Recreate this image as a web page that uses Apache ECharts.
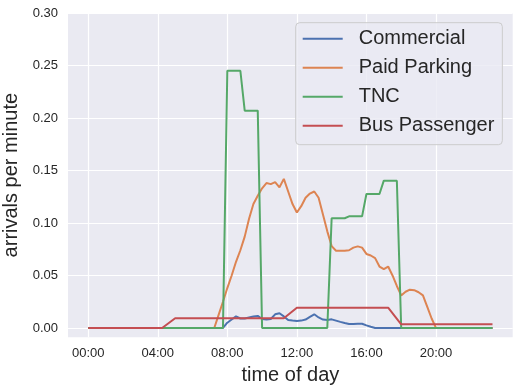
<!DOCTYPE html>
<html>
<head>
<meta charset="utf-8">
<script src="https://cdn.jsdelivr.net/npm/echarts@6/dist/echarts.min.js"></script>
<style>
  html, body { margin: 0; padding: 0; background: #fff; }
  #chart { width: 520px; height: 392px; }
</style>
</head>
<body>
<div id="chart"></div>
<script>
// [hour of day, arrivals per minute]
const commercial = [
  [0, 0], [7.75, 0], [8, 0.005], [8.25, 0.008], [8.5, 0.011], [8.75, 0.009], [9, 0.009],
  [9.25, 0.01], [9.5, 0.011], [9.75, 0.0115], [10, 0.0085], [10.25, 0.008], [10.5, 0.0085],
  [10.75, 0.013], [11, 0.014], [11.25, 0.011], [11.5, 0.0075], [11.75, 0.007], [12, 0.0067],
  [12.25, 0.007], [12.5, 0.008], [12.75, 0.0105], [13, 0.013], [13.25, 0.01], [13.5, 0.008],
  [13.75, 0.0075], [14, 0.0082], [14.25, 0.007], [14.5, 0.0058], [14.75, 0.0047], [15, 0.0038],
  [15.25, 0.0038], [15.5, 0.004], [15.75, 0.004], [16, 0.0025], [16.25, 0.0012], [16.5, 0],
  [23.25, 0]
];
const paidParking = [
  [0, 0], [7.25, 0], [7.5, 0.0125], [7.75, 0.025], [8, 0.038], [8.25, 0.05], [8.5, 0.063],
  [8.75, 0.074], [9, 0.087], [9.25, 0.104], [9.5, 0.118], [9.75, 0.126], [10, 0.133],
  [10.25, 0.138], [10.5, 0.137], [10.75, 0.139], [11, 0.134], [11.25, 0.142], [11.5, 0.13],
  [11.75, 0.118], [12, 0.11], [12.25, 0.116], [12.5, 0.124], [12.75, 0.128], [13, 0.13],
  [13.25, 0.124], [13.5, 0.108], [13.75, 0.092], [14, 0.078], [14.25, 0.0735], [14.5, 0.0735],
  [14.75, 0.0735], [15, 0.074], [15.25, 0.0765], [15.5, 0.0777], [15.75, 0.0765], [16, 0.0705],
  [16.25, 0.069], [16.5, 0.0665], [16.75, 0.0585], [17, 0.056], [17.25, 0.0585], [17.5, 0.05],
  [17.75, 0.04], [18, 0.031], [18.25, 0.0345], [18.5, 0.0365], [18.75, 0.036], [19, 0.034],
  [19.25, 0.031], [19.5, 0.02], [19.75, 0.009], [20, 0], [23.25, 0]
];
const tnc = [
  [0, 0], [7.75, 0], [8, 0.245], [8.75, 0.245], [9, 0.207], [9.75, 0.207], [10, 0],
  [13.75, 0], [14, 0.1045], [14.75, 0.1045], [15, 0.1063], [15.75, 0.1063], [16, 0.1276],
  [16.75, 0.1276], [17, 0.1403], [17.75, 0.1403], [18, 0], [23.25, 0]
];
const busPassenger = [
  [0, 0], [4.25, 0], [5, 0.0093], [11.25, 0.0093], [12, 0.0193], [17.25, 0.0193],
  [18, 0.0035], [23.25, 0.0035]
];
const seriesNames = ['Commercial', 'Paid Parking', 'TNC', 'Bus Passenger'];
const colors = ['#4c72b0', '#dd8452', '#55a868', '#c44e52'];
const xTicks = [0, 4, 8, 12, 16, 20];
const yTicks = [0, 0.05, 0.1, 0.15, 0.2, 0.25, 0.3];

const font = "'Liberation Sans', Arial, sans-serif";
const ink = '#262626';

const chart = echarts.init(document.getElementById('chart'));
const allData = [commercial, paidParking, tnc, busPassenger];

chart.setOption({
  animation: false,
  textStyle: { fontFamily: font, color: ink },
  grid: {
    left: 68, right: 7.3, top: 13, bottom: 54.7,
    outerBoundsMode: 'none',
    containLabel: false,
    show: true, backgroundColor: '#eaeaf2', borderWidth: 0
  },
  legend: {
    left: 295.7, top: 22.7,
    orient: 'vertical',
    icon: 'rect',
    itemWidth: 40, itemHeight: 2, itemGap: 9,
    padding: [6, 8, 9, 7],
    backgroundColor: 'rgba(234,234,242,0.8)',
    borderColor: '#cccccc', borderWidth: 1, borderRadius: 4,
    textStyle: { fontFamily: font, fontSize: 20, color: ink, lineHeight: 20, padding: [0, 0, 0, 11] },
    data: seriesNames
  },
  xAxis: {
    type: 'value',
    min: -1.1625, max: 24.4125,
    name: 'time of day', nameLocation: 'middle', nameGap: 27,
    nameTextStyle: { fontFamily: font, fontSize: 20, color: ink },
    axisLine: { show: false },
    axisTick: { show: false, customValues: xTicks },
    axisLabel: {
      customValues: xTicks, fontFamily: font, fontSize: 13, color: ink, margin: 10,
      formatter: v => String(v).padStart(2, '0') + ':00'
    },
    splitLine: { show: true, lineStyle: { color: '#ffffff', width: 1.2 } }
  },
  yAxis: {
    type: 'value',
    min: -0.0089, max: 0.3,
    name: 'arrivals per minute', nameLocation: 'middle', nameGap: 40,
    nameTextStyle: { fontFamily: font, fontSize: 20, color: ink },
    axisLine: { show: false },
    axisTick: { show: false, customValues: yTicks },
    axisLabel: {
      customValues: yTicks, fontFamily: font, fontSize: 13, color: ink, margin: 10,
      formatter: v => v.toFixed(2)
    },
    splitLine: { show: true, lineStyle: { color: '#ffffff', width: 1.2 } }
  },
  series: seriesNames.map((name, i) => ({
    name,
    type: 'line',
    data: allData[i],
    showSymbol: false,
    symbol: 'none',
    color: colors[i],
    lineStyle: { width: 2, color: colors[i] }
  }))
});
</script>
</body>
</html>
